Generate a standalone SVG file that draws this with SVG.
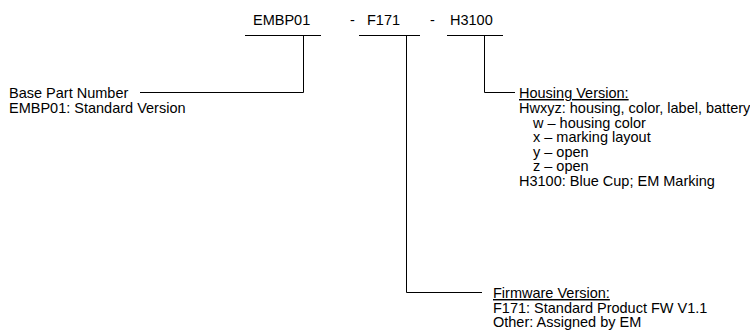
<svg xmlns="http://www.w3.org/2000/svg" width="750" height="330" viewBox="0 0 750 330">
<style>
text{font-family:"Liberation Sans",Arial,sans-serif;font-size:14.5px;fill:#000}
.u{text-decoration:underline}
line,polyline{stroke:#000;stroke-width:1;fill:none}
</style>
<rect width="750" height="330" fill="#fff"/>
<g id="code">
<text x="253" y="25">EMBP01</text>
<text x="350" y="25">-</text>
<text x="367" y="25">F171</text>
<text x="430" y="25">-</text>
<text x="450" y="25">H3100</text>
</g>
<g id="connectors">
<line x1="245" y1="35.5" x2="321" y2="35.5"/>
<line x1="359" y1="35.5" x2="420" y2="35.5"/>
<line x1="447" y1="35.5" x2="503" y2="35.5"/>
<polyline points="303.5,35.5 303.5,92.5 140,92.5"/>
<polyline points="484.5,35.5 484.5,92.5 515,92.5"/>
<polyline points="406.5,35.5 406.5,292.5 482,292.5"/>
</g>
<g id="base">
<text x="9" y="98">Base Part Number</text>
<text x="9" y="113">EMBP01: Standard Version</text>
</g>
<g id="housing">
<text x="519" y="98" class="u">Housing Version:</text>
<text x="519" y="113">Hwxyz: housing, color, label, battery</text>
<text x="533" y="127.5">w – housing color</text>
<text x="533" y="142">x – marking layout</text>
<text x="533" y="156.5">y – open</text>
<text x="533" y="171">z – open</text>
<text x="519" y="185.5">H3100: Blue Cup; EM Marking</text>
</g>
<g id="firmware">
<text x="493" y="298" class="u">Firmware Version:</text>
<text x="493" y="312.5">F171: Standard Product FW V1.1</text>
<text x="493" y="327">Other: Assigned by EM</text>
</g>
</svg>
